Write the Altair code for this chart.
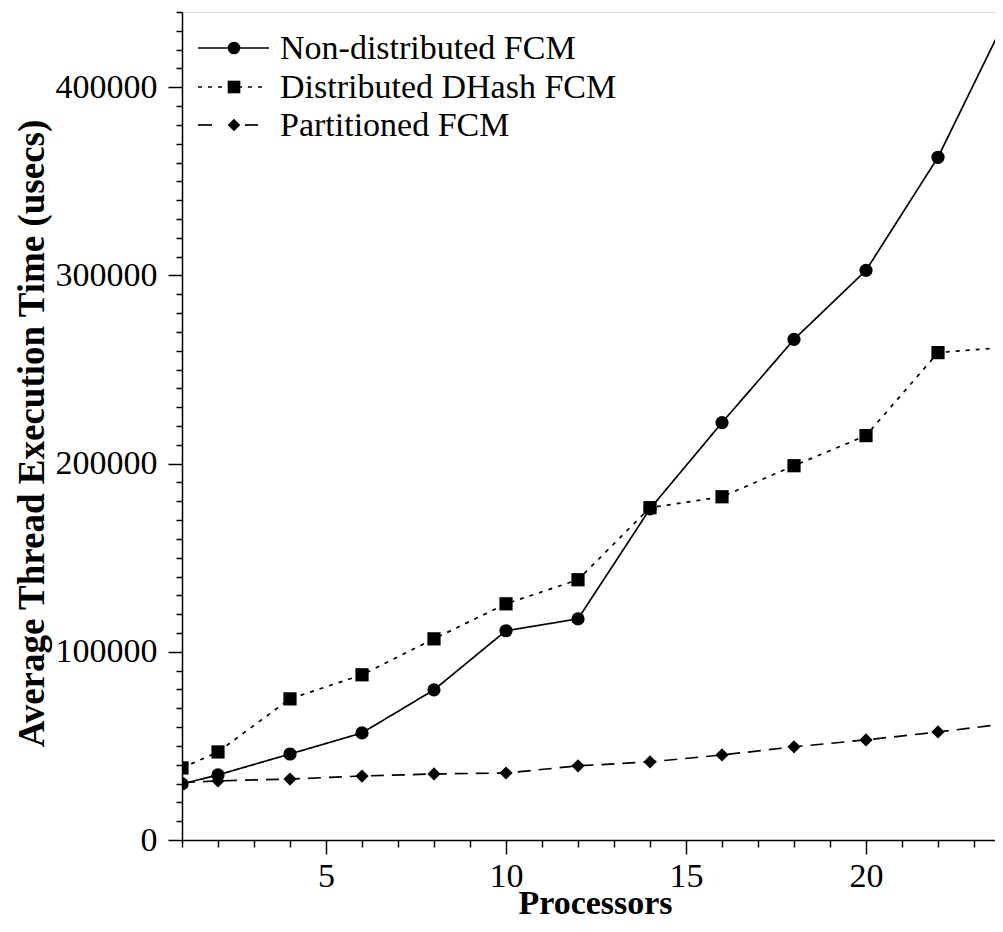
import altair as alt
import pandas as pd

processors = [1, 2, 4, 6, 8, 10, 12, 14, 16, 18, 20, 22, 24]
non_distributed = [29800, 34600, 45700, 56900, 79800, 111200, 117500, 176000, 221800, 266000, 302700, 362800, 441000]
distributed = [38300, 46800, 75000, 87800, 106900, 125500, 138300, 176600, 182400, 198900, 214900, 259000, 262000]
partitioned = [30500, 31400, 32400, 34000, 35100, 35600, 39400, 41500, 45200, 49500, 53200, 57400, 62000]
series_names = ["Non-distributed FCM", "Distributed DHash FCM", "Partitioned FCM"]

x_ticks = list(range(1, 24))
y_ticks = list(range(0, 440001, 10000))

FONT = "Liberation Serif"
FS = 34

rows = []
for name, vals in zip(series_names, [non_distributed, distributed, partitioned]):
    for p, v in zip(processors, vals):
        rows.append({"series": name, "Processors": p, "Time": v})
df = pd.DataFrame(rows)

dashes = [[1, 0], [4, 6], [13, 8]]
shapes = ["circle", "square", "diamond"]

W, H = 813, 828
X_MAX = 1 + W / 36.0

x_enc = alt.X(
    "Processors:Q",
    scale=alt.Scale(domain=[1, X_MAX], nice=False, zero=False),
    axis=alt.Axis(
        values=x_ticks,
        title="Processors",
        labelExpr="datum.value % 5 === 0 ? datum.label : ''",
        tickSize={"condition": {"test": "datum.value % 5 === 0", "value": 14}, "value": 7},
        labelPadding=5,
        labelFont=FONT, labelFontSize=FS, labelColor="black",
        titleFont=FONT, titleFontSize=FS, titleFontWeight="bold", titleColor="black",
        titleBaseline="alphabetic", titleY=73, titleX=413,
        grid=False, domainColor="black", tickColor="black", domainWidth=1.5, tickWidth=1.5,
        labelOverlap=False, labelFlush=False,
    ),
)
y_enc = alt.Y(
    "Time:Q",
    scale=alt.Scale(domain=[0, 440000], nice=False),
    axis=alt.Axis(
        values=y_ticks,
        format="d",
        title="Average Thread Execution Time (usecs)",
        labelExpr="datum.value % 100000 === 0 ? datum.label : ''",
        tickSize={"condition": {"test": "datum.value % 100000 === 0", "value": 14}, "value": 6},
        labelPadding=11,
        labelFont=FONT, labelFontSize=FS, labelColor="black",
        titleFont=FONT, titleFontSize=37, titleFontWeight="bold", titleColor="black",
        titleBaseline="alphabetic", titleX=-139, titleY=421,
        grid=False, domainColor="black", tickColor="black", domainWidth=1.5, tickWidth=1.5,
        labelOverlap=False, labelFlush=False,
    ),
)

dash_scale = alt.Scale(domain=series_names, range=dashes)
shape_scale = alt.Scale(domain=series_names, range=shapes)

lines = alt.Chart(df).mark_line(color="black", strokeWidth=1.7, clip=True).encode(
    x=x_enc, y=y_enc,
    strokeDash=alt.StrokeDash("series:N", scale=dash_scale, legend=None),
    detail="series:N",
)
points = alt.Chart(df).mark_point(filled=True, color="black", opacity=1, size=175, clip=True).encode(
    x=x_enc, y=y_enc,
    shape=alt.Shape("series:N", scale=shape_scale, legend=None),
)

layers = [lines, points]

# manual legend
legend_y = [36, 75, 113]
legend_line_x2 = [87, 80, 76]
for i, name in enumerate(series_names):
    ld = pd.DataFrame({"label": [name]})
    if i == 2:
        seg1 = alt.Chart(ld).mark_rule(color="black", strokeWidth=1.7).encode(
            x=alt.value(16), x2=alt.value(30), y=alt.value(legend_y[i]))
        seg2 = alt.Chart(ld).mark_rule(color="black", strokeWidth=1.7).encode(
            x=alt.value(63), x2=alt.value(76), y=alt.value(legend_y[i]))
        layers += [seg1, seg2]
    else:
        seg = alt.Chart(ld).mark_rule(color="black", strokeWidth=1.7, strokeDash=dashes[i]).encode(
            x=alt.value(16), x2=alt.value(legend_line_x2[i]), y=alt.value(legend_y[i]))
        layers.append(seg)
    sym = alt.Chart(ld).mark_point(filled=True, color="black", opacity=1, size=160, shape=shapes[i]).encode(
        x=alt.value(52), y=alt.value(legend_y[i]))
    txt = alt.Chart(ld).mark_text(font=FONT, fontSize=FS, align="left", baseline="middle", color="black").encode(
        x=alt.value(98), y=alt.value(legend_y[i] + 1), text="label:N")
    layers += [sym, txt]

chart = alt.layer(*layers).properties(
    width=W, height=H,
    autosize=alt.AutoSizeParams(type="none"),
    padding={"left": 174, "top": 4, "right": 0, "bottom": 80},
).configure_view(stroke=None).configure(background="white")

chart.save("out.html", embed_options={"renderer": "svg", "actions": False})
